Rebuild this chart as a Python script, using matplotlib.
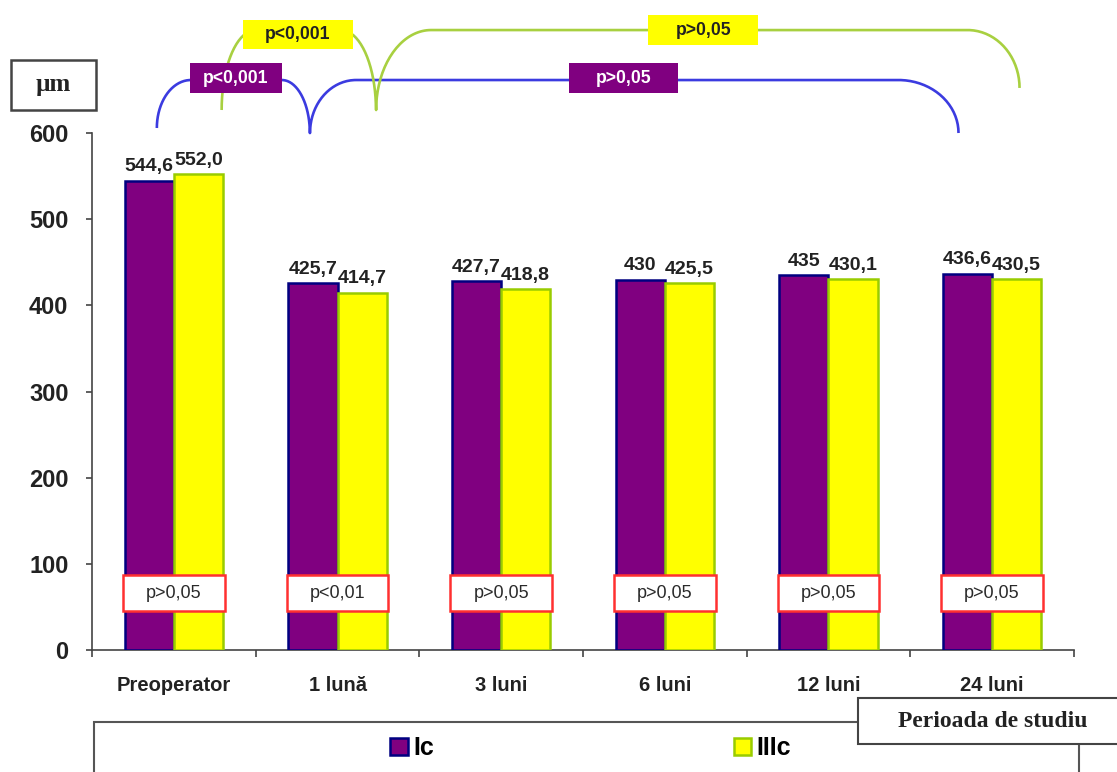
"""Central corneal thickness over the follow-up period, groups Ic and IIIc."""

import numpy as np
import matplotlib
matplotlib.use("Agg")
import matplotlib.pyplot as plt
from matplotlib.patches import Rectangle

periods = ["Preoperator", "1 lună", "3 luni", "6 luni", "12 luni", "24 luni"]
ic_labels = ["544,6", "425,7", "427,7", "430", "435", "436,6"]
iiic_labels = ["552,0", "414,7", "418,8", "425,5", "430,1", "430,5"]
between_groups_p = ["p>0,05", "p<0,01", "p>0,05", "p>0,05", "p>0,05", "p>0,05"]
ic_trend_p = ["p<0,001", "p>0,05"]
iiic_trend_p = ["p<0,001", "p>0,05"]

ic_values = [float(s.replace(",", ".")) for s in ic_labels]
iiic_values = [float(s.replace(",", ".")) for s in iiic_labels]

TEXT = "#222222"
PURPLE, NAVY = "#800080", "#000080"
YELLOW, LIME = "#FFFF00", "#99CC00"
BLUE_LINE, GREEN_LINE = "#3b3be0", "#a8d040"
SERIF = ["Liberation Serif", "DejaVu Serif"]

plt.rcParams["font.family"] = ["Liberation Sans", "DejaVu Sans"]
plt.rcParams["font.weight"] = "bold"


def arc(cx, cy, rx, ry, a0, a1, n=40):
    t = np.radians(np.linspace(a0, a1, n))
    return cx + rx * np.cos(t), cy + ry * np.sin(t)


def bracket(ax, pieces, color):
    xs, ys = [], []
    for p in pieces:
        px, py = arc(*p)
        xs.extend(px)
        ys.extend(py)
    ax.plot(xs, ys, color=color, lw=1.9, clip_on=False, zorder=5,
            solid_capstyle="butt")


def label_box(ax, x0, x1, y0, y1, text, face, color):
    ax.add_patch(Rectangle((x0, y0), x1 - x0, y1 - y0, facecolor=face,
                           edgecolor="none", clip_on=False, zorder=6))
    ax.text((x0 + x1) / 2, (y0 + y1) / 2, text, ha="center", va="center",
            fontsize=12.7, fontweight="bold", color=color, zorder=7,
            clip_on=False)


fig = plt.figure(figsize=(11.17, 7.72), dpi=100)
ax = fig.add_axes([0.0824, 0.158, 0.879, 0.6697])

x = np.arange(len(periods))
w = 0.3
b1 = ax.bar(x - w / 2, ic_values, w, color=PURPLE, edgecolor=NAVY,
            linewidth=1.8, label="Ic", zorder=3)
b2 = ax.bar(x + w / 2, iiic_values, w, color=YELLOW, edgecolor=LIME,
            linewidth=1.8, label="IIIc", zorder=3)

for bars, labels in ((b1, ic_labels), (b2, iiic_labels)):
    for rect, lab in zip(bars, labels):
        ax.annotate(lab, (rect.get_x() + rect.get_width() / 2, rect.get_height()),
                    xytext=(0, 4), textcoords="offset points", ha="center",
                    va="bottom", fontsize=14, fontweight="bold", color=TEXT,
                    zorder=4)

# p-values between groups, inside the bars
for xi, p in zip(x, between_groups_p):
    ax.add_patch(Rectangle((xi - 0.31, 45), 0.62, 42, facecolor="white",
                           edgecolor="#ff3030", linewidth=1.8, zorder=4))
    ax.text(xi, 66, p, ha="center", va="center", fontsize=13,
            fontweight="normal", color="#2a2a2a", zorder=5)

ax.set_xlim(-0.5, len(periods) - 0.5)
ax.set_ylim(0, 600)
ax.set_yticks(np.arange(0, 601, 100))
ax.tick_params(axis="y", labelsize=17, length=4, width=1.2, pad=13,
               colors="#444444", labelcolor=TEXT)
ax.set_xticks(np.arange(-0.5, len(periods)), labels=[])
ax.set_xticks(x, labels=periods, minor=True)
ax.tick_params(axis="x", which="major", length=5, width=1.2, colors="#444444")
ax.tick_params(axis="x", which="minor", length=0, pad=19, labelsize=14.5,
               labelcolor=TEXT)
for s in ("top", "right"):
    ax.spines[s].set_visible(False)
for s in ("left", "bottom"):
    ax.spines[s].set_color("#444444")
    ax.spines[s].set_linewidth(1.2)

# trend brackets above the plot: Ic (blue) and IIIc (green)
bracket(ax, [
    (0.104, 605.8, 0.208, 55.7, 180, 90),
    (0.660, 600.0, 0.171, 61.5, 90, 0),
    (1.113, 600.0, 0.281, 61.5, 180, 90),
    (4.428, 600.0, 0.367, 61.5, 90, 0),
], BLUE_LINE)
bracket(ax, [
    (0.500, 626.7, 0.208, 92.8, 180, 90),
    (1.021, 626.7, 0.214, 92.8, 90, 0),
    (1.572, 626.7, 0.336, 92.8, 180, 90),
    (4.850, 652.3, 0.318, 67.2, 90, 0),
], GREEN_LINE)

label_box(ax, 0.098, 0.660, 646.4, 681.2, ic_trend_p[0], PURPLE, "white")
label_box(ax, 2.416, 3.083, 646.4, 681.2, ic_trend_p[1], PURPLE, "white")
label_box(ax, 0.422, 1.095, 697.5, 731.1, iiic_trend_p[0], YELLOW, TEXT)
label_box(ax, 2.899, 3.572, 702.0, 737.0, iiic_trend_p[1], YELLOW, TEXT)

# unit box
fig.add_artist(Rectangle((0.0098, 0.8575), 0.0761, 0.0648,
                         transform=fig.transFigure, facecolor="white",
                         edgecolor="#444444", linewidth=1.8))
fig.text(0.0479, 0.8899, "µm", ha="center", va="center", fontsize=18,
         fontweight="bold", family=SERIF, color=TEXT)

# legend frame and axis title box
fig.add_artist(Rectangle((0.0842, -0.1), 0.8818, 0.1648,
                         transform=fig.transFigure, fill=False,
                         edgecolor="#555555", linewidth=1.5))
fig.add_artist(Rectangle((0.768, 0.0363), 0.3, 0.0596,
                         transform=fig.transFigure, facecolor="white",
                         edgecolor="#444444", linewidth=1.5, zorder=3))
fig.text(0.889, 0.066, "Perioada de studiu", ha="center", va="center",
         fontsize=17, fontweight="bold", family=SERIF, color=TEXT, zorder=4)

fig.legend(handles=[b1, b2], loc="center", bbox_to_anchor=(0.5287, 0.031),
           ncol=2, frameon=False, handlelength=0.7,
           handleheight=0.7, handletextpad=0.2, columnspacing=12,
           borderpad=0, prop={"weight": "bold", "size": 18})

fig.savefig("out.png", dpi=100)
